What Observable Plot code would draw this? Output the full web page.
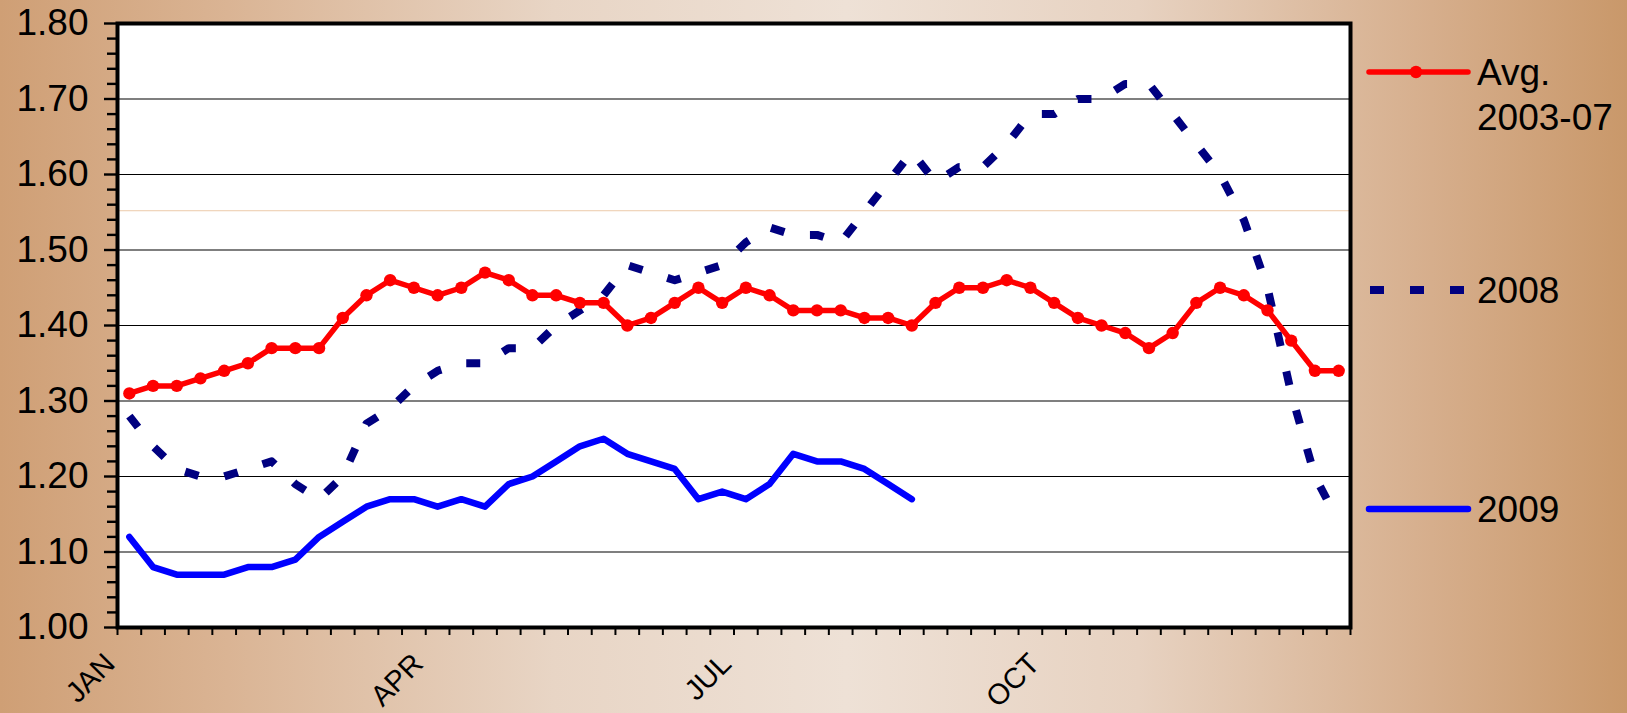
<!DOCTYPE html>
<html>
<head>
<meta charset="utf-8">
<script src="https://cdn.jsdelivr.net/npm/d3@7"></script>
<script src="https://cdn.jsdelivr.net/npm/@observablehq/plot@0.6"></script>
<style>
  html, body { margin: 0; padding: 0; }
  body {
    width: 1627px; height: 713px; overflow: hidden;
    background: linear-gradient(to right, #cf9f75 0%, #dab494 14%, #e8d5c5 34%, #eee1d6 52%, #e7d2c1 70%, #d6ae8c 88%, #c9986a 100%);
    font-family: "Liberation Sans", Arial, sans-serif;
  }
  #chart { position: relative; width: 1627px; height: 713px; }
</style>
</head>
<body>
<div id="chart"></div>
<script>
// ---- data (weekly, week 1..52) ----
const weeks = [1,2,3,4,5,6,7,8,9,10,11,12,13,14,15,16,17,18,19,20,21,22,23,24,25,26,
               27,28,29,30,31,32,33,34,35,36,37,38,39,40,41,42,43,44,45,46,47,48,49,50,51,52];

const avg0307 = [1.31,1.32,1.32,1.33,1.34,1.35,1.37,1.37,1.37,1.41,
                 1.44,1.46,1.45,1.44,1.45,1.47,1.46,1.44,1.44,1.43,
                 1.43,1.40,1.41,1.43,1.45,1.43,1.45,1.44,1.42,1.42,
                 1.42,1.41,1.41,1.40,1.43,1.45,1.45,1.46,1.45,1.43,
                 1.41,1.40,1.39,1.37,1.39,1.43,1.45,1.44,1.42,1.38,
                 1.34,1.34];

const y2008 = [1.28,1.24,1.21,1.20,1.20,1.21,1.22,1.19,1.17,1.20,
               1.27,1.29,1.32,1.34,1.35,1.35,1.37,1.37,1.40,1.42,
               1.44,1.48,1.47,1.46,1.47,1.48,1.51,1.53,1.52,1.52,
               1.51,1.55,1.59,1.63,1.59,1.61,1.61,1.64,1.68,1.68,
               1.70,1.70,1.72,1.72,1.68,1.64,1.60,1.54,1.45,1.31,
               1.20,1.14];

const y2009 = [1.12,1.08,1.07,1.07,1.07,1.08,1.08,1.09,1.12,1.14,
               1.16,1.17,1.17,1.16,1.17,1.16,1.19,1.20,1.22,1.24,
               1.25,1.23,1.22,1.21,1.17,1.18,1.17,1.19,1.23,1.22,
               1.22,1.21,1.19,1.17];

const seriesNames = ["Avg.\n2003-07", "2008", "2009"];
const monthLabels = ["JAN", "APR", "JUL", "OCT"];
const monthStartWeek = [1, 14, 27, 40];
const yMajorTicks = [1.0,1.1,1.2,1.3,1.4,1.5,1.6,1.7,1.8];
const yMinorTicks = [1.02,1.04,1.06,1.08,1.12,1.14,1.16,1.18,1.22,1.24,1.26,1.28,1.32,1.34,1.36,1.38,
                     1.42,1.44,1.46,1.48,1.52,1.54,1.56,1.58,1.62,1.64,1.66,1.68,1.72,1.74,1.76,1.78];
const gridLevels = [1.1,1.2,1.3,1.4,1.5,1.6,1.7];
const faintLevel = [1.552];

// ---- tables built from arrays ----
// week w occupies the band [w-1, w]; its point sits at the band centre
const toRows = arr => arr.map((v, i) => ({x: weeks[i] - 0.5, y: v}));
const avgRows = toRows(avg0307);
const rows2008 = toRows(y2008);
const rows2009 = toRows(y2009);
const weekBounds = [0, ...weeks];
const monthPos = monthStartWeek.map(w => w - 1);

const FONT = "'Liberation Sans', Arial, sans-serif";

const svg = Plot.plot({
  width: 1627,
  height: 713,
  marginLeft: 117,
  marginRight: 277,
  marginTop: 23,
  marginBottom: 86,
  style: {background: "transparent", fontFamily: FONT, color: "black", overflow: "visible"},
  x: {type: "linear", domain: [0, 52], axis: null},
  y: {domain: [1.0, 1.8], axis: null},
  marks: [
    Plot.frame({fill: "white"}),
    Plot.ruleY(gridLevels, {stroke: "black", strokeWidth: 1.2}),
    Plot.ruleY(faintLevel, {stroke: "#eccaa9", strokeWidth: 1}),
    Plot.axisY({ticks: yMajorTicks, tickSize: 13, tickPadding: 16, tickFormat: ".2f",
                fontSize: 37, strokeWidth: 2.4, label: null}),
    Plot.axisY({ticks: yMinorTicks, tickSize: 10, tickFormat: () => "", strokeWidth: 2.4, label: null}),
    Plot.axisX({ticks: weekBounds, tickSize: 8, tickFormat: () => "", strokeWidth: 2, label: null}),
    Plot.text(monthLabels, {
      x: (d, i) => monthPos[i], text: d => d, frameAnchor: "bottom",
      rotate: -45, textAnchor: "end", fontSize: 29, dx: -1, dy: 38, fill: "black"
    }),
    Plot.line(rows2009, {x: "x", y: "y", stroke: "#0000ff", strokeWidth: 6.5,
                         strokeLinejoin: "round", strokeLinecap: "round"}),
    Plot.line(rows2008, {x: "x", y: "y", stroke: "#000080", strokeWidth: 8,
                         strokeDasharray: "14,26", strokeLinecap: "butt", strokeLinejoin: "round"}),
    Plot.line(avgRows, {x: "x", y: "y", stroke: "#ff0000", strokeWidth: 5.5, strokeLinejoin: "round"}),
    Plot.dot(avgRows, {x: "x", y: "y", r: 6.2, fill: "#ff0000", stroke: "none"}),
    Plot.frame({stroke: "black", strokeWidth: 4})
  ]
});

// ---- legend (right side) ----
const lg = d3.select(svg).append("g")
  .attr("font-family", FONT).attr("font-size", 37).attr("fill", "black")
  .attr("text-anchor", "start");

// Avg 2003-07
lg.append("line").attr("x1", 1369).attr("x2", 1468).attr("y1", 72).attr("y2", 72)
  .attr("stroke", "#ff0000").attr("stroke-width", 5.5).attr("stroke-linecap", "round");
lg.append("circle").attr("cx", 1416).attr("cy", 72).attr("r", 6.2).attr("fill", "#ff0000");
const t1 = lg.append("text").attr("x", 1477).attr("y", 85).attr("text-anchor", "start");
seriesNames[0].split("\n").forEach((s, i) =>
  t1.append("tspan").attr("x", 1477).attr("dy", i === 0 ? 0 : 45).text(s));

// 2008
lg.append("line").attr("x1", 1370).attr("x2", 1466).attr("y1", 290).attr("y2", 290)
  .attr("stroke", "#000080").attr("stroke-width", 8).attr("stroke-dasharray", "14,26");
lg.append("text").attr("x", 1477).attr("y", 303).attr("text-anchor", "start").text(seriesNames[1]);

// 2009
lg.append("line").attr("x1", 1369).attr("x2", 1468).attr("y1", 509).attr("y2", 509)
  .attr("stroke", "#0000ff").attr("stroke-width", 6.5).attr("stroke-linecap", "round");
lg.append("text").attr("x", 1477).attr("y", 522).attr("text-anchor", "start").text(seriesNames[2]);

document.getElementById("chart").appendChild(svg);
</script>
</body>
</html>
